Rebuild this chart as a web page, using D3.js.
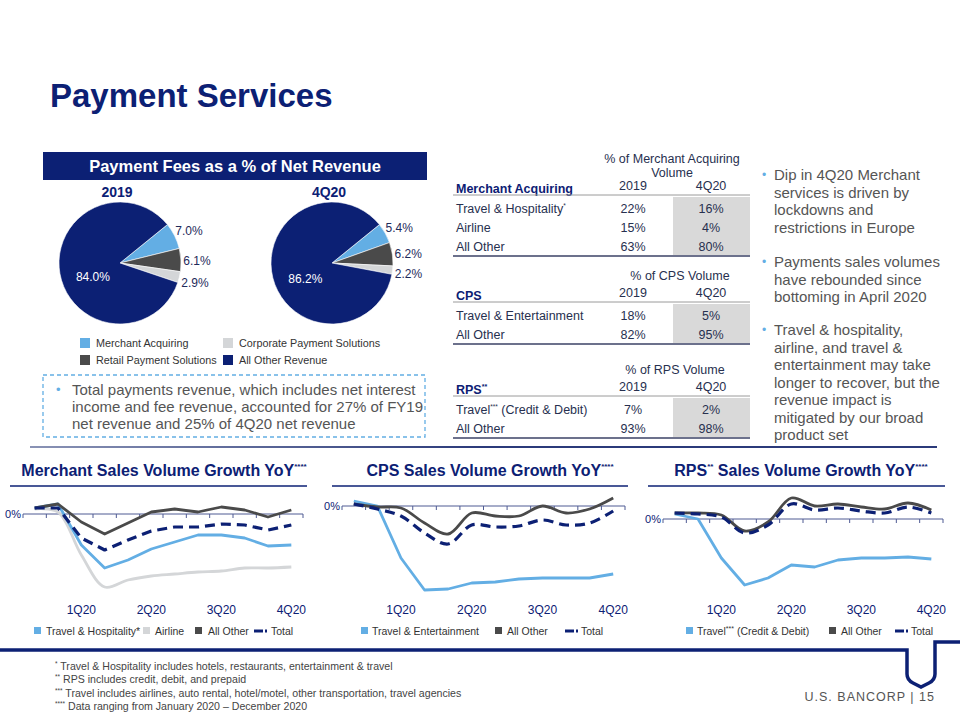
<!DOCTYPE html>
<html>
<head>
<meta charset="utf-8">
<script src="https://cdn.jsdelivr.net/npm/d3@7"></script>
<style>
  body { margin: 0; background: #fff; }
  svg { display: block; font-family: "Liberation Sans", Arial, sans-serif; }
</style>
</head>
<body>
<svg id="slide" width="960" height="720"></svg>
<script>
// ---------------- DATA ----------------
const pieCategories = ["Merchant Acquiring", "Retail Payment Solutions", "Corporate Payment Solutions", "All Other Revenue"];
const pie2019 = [7.0, 6.1, 2.9, 84.0];
const pie4Q20 = [5.4, 6.2, 2.2, 86.2];
const legendOrder = ["Merchant Acquiring", "Corporate Payment Solutions", "Retail Payment Solutions", "All Other Revenue"];

const tableMerchantRows = ["Travel & Hospitality", "Airline", "All Other"];
const tableMerchant2019 = ["22%", "15%", "63%"];
const tableMerchant4Q20 = ["16%", "4%", "80%"];
const tableCpsRows = ["Travel & Entertainment", "All Other"];
const tableCps2019 = ["18%", "82%"];
const tableCps4Q20 = ["5%", "95%"];
const tableRpsRows = ["Travel (Credit & Debit)", "All Other"];
const tableRps2019 = ["7%", "93%"];
const tableRps4Q20 = ["2%", "98%"];

const months = ["Jan","Feb","Mar","Apr","May","Jun","Jul","Aug","Sep","Oct","Nov","Dec"];
const quarterMonths = ["Mar","Jun","Sep","Dec"];
const quarterLabels = ["1Q20","2Q20","3Q20","4Q20"];

// Merchant sales volume growth YoY (approx. %)
const merchantTravelHosp = [6, 10, -31, -54, -46, -35, -28, -21, -21, -24, -32, -31];
const merchantAirline    = [5, 2, -41, -73, -66, -62, -60, -58, -57, -54, -54, -53];
const merchantAllOther   = [6, 10, -8, -20, -9, 2, 5, 2, 7, 4, -3, 4];
const merchantTotal      = [6, 6, -24, -36, -26, -17, -13, -13, -10, -11, -16, -11];

// CPS sales volume growth YoY
const cpsTravelEnt = [5, 0, -52, -84, -83, -77, -76, -73, -72, -72, -72, -68];
const cpsAllOther  = [2, -1, -2, -17, -28, -7, -10, -10, 0, -7, -3, 8];
const cpsTotal     = [2, -3, -10, -27, -38, -19, -21, -20, -14, -19, -17, -5];

// RPS sales volume growth YoY
const rpsTravel   = [5, 0, -39, -66, -59, -46, -48, -41, -39, -39, -38, -40];
const rpsAllOther = [6, 6, 4, -12, -3, 21, 13, 15, 12, 10, 16, 9];
const rpsTotal    = [6, 5, 2, -14, -6, 15, 9, 11, 8, 6, 12, 6];

// ---------------- STYLE ----------------
const NAVY = "#0C2074";
const LBLUE = "#63AEE4";
const DGRAY = "#4A4A4A";
const LGRAY = "#D4D6D8";
const TEXT = "#555555";
const TTEXT = "#27304F";
const pieColors = {"Merchant Acquiring": LBLUE, "Retail Payment Solutions": DGRAY, "Corporate Payment Solutions": LGRAY, "All Other Revenue": NAVY};

const svg = d3.select("#slide");

// Title
svg.append("text").attr("x", 50).attr("y", 107).attr("font-size", 33).attr("font-weight", "bold")
  .attr("fill", NAVY).text("Payment Services");

// ---------------- PIE SECTION ----------------
svg.append("rect").attr("x", 43).attr("y", 152).attr("width", 384).attr("height", 28).attr("fill", NAVY);
svg.append("text").attr("x", 235).attr("y", 172).attr("text-anchor", "middle").attr("fill", "#fff")
  .attr("font-size", 16.5).attr("font-weight", "bold").text("Payment Fees as a % of Net Revenue");

const startA = 51 * Math.PI / 180;
const pieGen = d3.pie().sort(null).startAngle(startA).endAngle(startA + 2 * Math.PI);
const R = 61;
const arc = d3.arc().innerRadius(0).outerRadius(R);
const outerLabelArc = d3.arc().innerRadius(77).outerRadius(77);
const innerLabelArc = d3.arc().innerRadius(0).outerRadius(55);

function drawPie(cx, cy, title, values) {
  const g = svg.append("g").attr("transform", `translate(${cx},${cy})`);
  svg.append("text").attr("x", cx - 3).attr("y", 197).attr("text-anchor", "middle").attr("font-size", 14)
    .attr("font-weight", "bold").attr("fill", NAVY).text(title);
  const arcs = pieGen(values).map((a, i) => Object.assign(a, {cat: pieCategories[i]}));
  g.selectAll("path").data(arcs).join("path")
    .attr("d", arc).attr("fill", d => pieColors[d.cat]).attr("stroke", "#fff").attr("stroke-width", 0.6);
  g.selectAll("text").data(arcs).join("text")
    .attr("transform", d => {
      const c = d.cat === "All Other Revenue" ? innerLabelArc.centroid(d) : outerLabelArc.centroid(d);
      return `translate(${c[0]},${c[1] + (d.cat === "All Other Revenue" ? 9 : 2)})`;
    })
    .attr("text-anchor", "middle").attr("dy", "0.35em").attr("font-size", 12)
    .attr("fill", d => d.cat === "All Other Revenue" ? "#fff" : "#1E2A5A")
    .text(d => d.value.toFixed(1) + "%");
}
drawPie(120, 263, "2019", pie2019);
drawPie(332, 263, "4Q20", pie4Q20);

// Pie legend
const legX = [80, 223], legY = [343, 360];
legendOrder.forEach((cat, i) => {
  const x = legX[i % 2], y = legY[Math.floor(i / 2)];
  svg.append("rect").attr("x", x).attr("y", y - 5).attr("width", 10).attr("height", 10).attr("fill", pieColors[cat]);
  svg.append("text").attr("x", x + 16).attr("y", y + 4).attr("font-size", 10.8).attr("fill", "#333").text(cat);
});

// Dashed box
svg.append("rect").attr("x", 43).attr("y", 375).attr("width", 382).attr("height", 62).attr("fill", "none")
  .attr("stroke", LBLUE).attr("stroke-width", 1.3).attr("stroke-dasharray", "4,3");
svg.append("text").attr("x", 56).attr("y", 394).attr("font-size", 13).attr("fill", LBLUE).text("•");
["Total payments revenue, which includes net interest",
 "income and fee revenue, accounted for 27% of FY19",
 "net revenue and 25% of 4Q20 net revenue"].forEach((t, i) => {
  svg.append("text").attr("x", 72).attr("y", 395 + i * 17).attr("font-size", 15).attr("fill", TEXT).text(t);
});

// ---------------- TABLES ----------------
const colLabelX = 456, col19 = 633, col20 = 711, shadeX = 673, shadeR = 750, ruleL = 453;
function drawTable(opts) {
  const {headerLines, headerX, headerY, title, titleSup, titleY, rows, v19, v20, firstRowY, rowGap, ruleY, sups} = opts;
  headerLines.forEach((h, i) => svg.append("text").attr("x", headerX).attr("y", headerY + i * 14)
    .attr("text-anchor", "middle").attr("font-size", 12.5).attr("fill", TTEXT).text(h));
  const tt = svg.append("text").attr("x", colLabelX).attr("y", titleY).attr("font-size", 12.5)
    .attr("font-weight", "bold").attr("fill", NAVY).text(title);
  if (titleSup) tt.append("tspan").attr("font-size", 7).attr("dy", -5).text(titleSup);
  svg.append("text").attr("x", col19).attr("y", titleY - 3).attr("text-anchor", "middle").attr("font-size", 12.5).attr("fill", TTEXT).text("2019");
  svg.append("text").attr("x", col20).attr("y", titleY - 3).attr("text-anchor", "middle").attr("font-size", 12.5).attr("fill", TTEXT).text("4Q20");
  svg.append("line").attr("x1", ruleL).attr("x2", shadeR).attr("y1", ruleY).attr("y2", ruleY).attr("stroke", "#9a9a9a").attr("stroke-width", 1);
  const lastY = firstRowY + (rows.length - 1) * rowGap;
  svg.append("rect").attr("x", shadeX).attr("y", ruleY + 2).attr("width", shadeR - shadeX)
    .attr("height", lastY + 4 - ruleY - 2).attr("fill", "#D9D9D9");
  rows.forEach((r, i) => {
    const y = firstRowY + i * rowGap;
    const t = svg.append("text").attr("x", colLabelX).attr("y", y).attr("font-size", 12.5).attr("fill", TTEXT);
    if (sups && sups[i]) {
      const parts = sups[i];
      t.append("tspan").text(parts[0]);
      t.append("tspan").attr("font-size", 6.5).attr("dy", -5).text(parts[1]);
      t.append("tspan").attr("dy", 5).text(parts[2]);
    } else t.text(r);
    svg.append("text").attr("x", col19).attr("y", y).attr("text-anchor", "middle").attr("font-size", 12.5).attr("fill", TTEXT).text(v19[i]);
    svg.append("text").attr("x", col20).attr("y", y).attr("text-anchor", "middle").attr("font-size", 12.5).attr("fill", TTEXT).text(v20[i]);
  });
  svg.append("line").attr("x1", ruleL).attr("x2", shadeR).attr("y1", lastY + 5).attr("y2", lastY + 5)
    .attr("stroke", "#3B4266").attr("stroke-width", 1.6);
}
drawTable({headerLines: ["% of Merchant Acquiring", "Volume"], headerX: 672, headerY: 163,
  title: "Merchant Acquiring", titleY: 193, rows: tableMerchantRows, v19: tableMerchant2019, v20: tableMerchant4Q20,
  firstRowY: 213, rowGap: 19, ruleY: 195, sups: [["Travel & Hospitality", "*", ""], null, null]});
drawTable({headerLines: ["% of CPS Volume"], headerX: 680, headerY: 280,
  title: "CPS", titleY: 300, rows: tableCpsRows, v19: tableCps2019, v20: tableCps4Q20,
  firstRowY: 320, rowGap: 19, ruleY: 302});
drawTable({headerLines: ["% of RPS Volume"], headerX: 675, headerY: 374,
  title: "RPS", titleSup: "**", titleY: 394, rows: tableRpsRows, v19: tableRps2019, v20: tableRps4Q20,
  firstRowY: 414, rowGap: 19, ruleY: 396, sups: [["Travel", "***", " (Credit & Debit)"], null]});

// ---------------- RIGHT BULLETS ----------------
const bullets = [
  {y: 180, lines: ["Dip in 4Q20 Merchant", "services is driven by", "lockdowns and", "restrictions in Europe"]},
  {y: 267, lines: ["Payments sales volumes", "have rebounded since", "bottoming in April 2020"]},
  {y: 335, lines: ["Travel & hospitality,", "airline, and travel &", "entertainment may take", "longer to recover, but the", "revenue impact is", "mitigated by our broad", "product set"]}
];
bullets.forEach(b => {
  svg.append("text").attr("x", 762).attr("y", b.y - 1).attr("font-size", 12).attr("fill", LBLUE).text("•");
  b.lines.forEach((l, i) => svg.append("text").attr("x", 774).attr("y", b.y + i * 17.5)
    .attr("font-size", 15).attr("fill", TEXT).text(l));
});

// Separator rule
const grad = svg.append("defs").append("linearGradient").attr("id", "sepGrad").attr("x1", "0%").attr("x2", "100%");
grad.append("stop").attr("offset", "0%").attr("stop-color", "#8a93b5");
grad.append("stop").attr("offset", "50%").attr("stop-color", "#2b3a7a");
grad.append("stop").attr("offset", "100%").attr("stop-color", "#2b3a7a");
svg.append("rect").attr("x", 30).attr("y", 446).attr("width", 907).attr("height", 2).attr("fill", "url(#sepGrad)");

// ---------------- LINE CHARTS ----------------
function drawLineChart(cfg) {
  const {x0, x1, axisY, titleCx, ulL, ulR, title, series, legend} = cfg;
  const g = svg.append("g");
  const t = g.append("text").attr("x", titleCx).attr("y", 476).attr("text-anchor", "middle")
    .attr("font-size", 16).attr("font-weight", "bold").attr("fill", NAVY);
  title.forEach(p => {
    if (p.sup) t.append("tspan").attr("font-size", 8).attr("dy", -7).text(p.t);
    else t.append("tspan").attr("dy", p.after ? 7 : 0).text(p.t);
  });
  g.append("line").attr("x1", ulL).attr("x2", ulR).attr("y1", 486).attr("y2", 486).attr("stroke", NAVY).attr("stroke-width", 1.5);

  const x = d3.scaleBand().domain(months).range([x0, x1]);
  const y = d3.scaleLinear().domain([-90, 15]).range([axisY + 90, axisY - 15]);

  g.append("line").attr("x1", x0).attr("x2", x1).attr("y1", y(0)).attr("y2", y(0)).attr("stroke", "#4F5B93").attr("stroke-width", 1);
  const bounds = months.map(m => x(m)).concat([x1]);
  g.selectAll(".tk").data(bounds).join("line").attr("x1", d => d).attr("x2", d => d)
    .attr("y1", y(0)).attr("y2", y(0) + 4).attr("stroke", "#4F5B93").attr("stroke-width", 1);
  g.append("text").attr("x", x0 - 2).attr("y", y(0) + 4).attr("text-anchor", "end").attr("font-size", 11).attr("fill", NAVY).text("0%");
  quarterMonths.forEach((m, i) => g.append("text").attr("x", x(m) + x.bandwidth() / 2).attr("y", 614)
    .attr("text-anchor", "middle").attr("font-size", 12).attr("fill", NAVY).text(quarterLabels[i]));

  series.forEach(s => {
    const line = d3.line().x((d, i) => x(months[i]) + x.bandwidth() / 2).y(d => y(d))
      .curve(s.smooth ? d3.curveCatmullRom.alpha(0.5) : d3.curveLinear);
    g.append("path").attr("d", line(s.values)).attr("fill", "none").attr("stroke", s.color)
      .attr("stroke-width", s.dash ? 3.2 : 2.8).attr("stroke-dasharray", s.dash ? "10,6" : null)
      .attr("stroke-linejoin", "round");
  });

  legend.forEach(l => {
    if (l.dash) {
      g.append("line").attr("x1", l.x).attr("x2", l.x + 9).attr("y1", 631).attr("y2", 631).attr("stroke", NAVY).attr("stroke-width", 3);
      g.append("line").attr("x1", l.x + 11).attr("x2", l.x + 13).attr("y1", 631).attr("y2", 631).attr("stroke", NAVY).attr("stroke-width", 3);
    } else {
      g.append("rect").attr("x", l.x).attr("y", 627).attr("width", 7).attr("height", 7).attr("fill", l.color);
    }
    const tt = g.append("text").attr("x", l.tx).attr("y", 635).attr("font-size", 10.5).attr("fill", "#333");
    if (l.parts) {
      tt.append("tspan").text(l.parts[0]);
      tt.append("tspan").attr("font-size", 7).attr("dy", -4).text(l.parts[1]);
      tt.append("tspan").attr("dy", 4).text(l.parts[2]);
    } else tt.text(l.label);
  });
}

drawLineChart({x0: 23, x1: 303, axisY: 514, titleCx: 164, ulL: 10, ulR: 307,
  title: [{t: "Merchant Sales Volume Growth YoY"}, {t: "****", sup: true}],
  series: [
    {values: merchantAirline, color: LGRAY, smooth: true},
    {values: merchantTravelHosp, color: LBLUE},
    {values: merchantAllOther, color: DGRAY},
    {values: merchantTotal, color: NAVY, dash: true}
  ],
  legend: [
    {x: 34, tx: 46, color: LBLUE, label: "Travel & Hospitality*"},
    {x: 143, tx: 155, color: LGRAY, label: "Airline"},
    {x: 195, tx: 208, color: DGRAY, label: "All Other"},
    {x: 254, tx: 271, dash: true, label: "Total"}
  ]});

drawLineChart({x0: 342, x1: 625, axisY: 506, titleCx: 490, ulL: 332, ulR: 628,
  title: [{t: "CPS Sales Volume Growth YoY"}, {t: "****", sup: true}],
  series: [
    {values: cpsTravelEnt, color: LBLUE},
    {values: cpsAllOther, color: DGRAY, smooth: true},
    {values: cpsTotal, color: NAVY, dash: true, smooth: true}
  ],
  legend: [
    {x: 361, tx: 372, color: LBLUE, label: "Travel & Entertainment"},
    {x: 495, tx: 507, color: DGRAY, label: "All Other"},
    {x: 565, tx: 581, dash: true, label: "Total"}
  ]});

drawLineChart({x0: 663, x1: 943, axisY: 519, titleCx: 801, ulL: 648, ulR: 945,
  title: [{t: "RPS"}, {t: "**", sup: true}, {t: " Sales Volume Growth YoY", after: true}, {t: "****", sup: true}],
  series: [
    {values: rpsTravel, color: LBLUE},
    {values: rpsAllOther, color: DGRAY, smooth: true},
    {values: rpsTotal, color: NAVY, dash: true, smooth: true}
  ],
  legend: [
    {x: 686, tx: 697, color: LBLUE, parts: ["Travel", "***", " (Credit & Debit)"]},
    {x: 829, tx: 841, color: DGRAY, label: "All Other"},
    {x: 895, tx: 911, dash: true, label: "Total"}
  ]});

// ---------------- FOOTER ----------------
svg.append("path").attr("d", "M0,650 H907 V674 Q907,680 913,683 L921,687 L929,683 Q935,680 935,674 V642 H960")
  .attr("fill", "none").attr("stroke", NAVY).attr("stroke-width", 3.5).attr("stroke-linejoin", "miter");

const footnotes = [
  ["*", "Travel & Hospitality includes hotels, restaurants, entertainment & travel"],
  ["**", "RPS includes credit, debit, and prepaid"],
  ["***", "Travel includes airlines, auto rental, hotel/motel, other transportation, travel agencies"],
  ["****", "Data ranging from January 2020 – December 2020"]
];
footnotes.forEach((f, i) => {
  const t = svg.append("text").attr("x", 55).attr("y", 670 + i * 13.3).attr("font-size", 10.6)
    .attr("font-family", "'Liberation Sans Narrow', 'Arial Narrow', 'Liberation Sans', sans-serif").attr("fill", "#444");
  t.append("tspan").attr("font-size", 6.5).attr("dy", -4).text(f[0]);
  t.append("tspan").attr("dy", 4).text(" " + f[1]);
});
svg.append("text").attr("x", 935).attr("y", 701).attr("text-anchor", "end").attr("font-size", 12.5)
  .attr("font-family", "'Liberation Sans Narrow', 'Arial Narrow', 'Liberation Sans', sans-serif")
  .attr("letter-spacing", 1).attr("fill", "#555").text("U.S. BANCORP  |  15");
</script>
</body>
</html>
